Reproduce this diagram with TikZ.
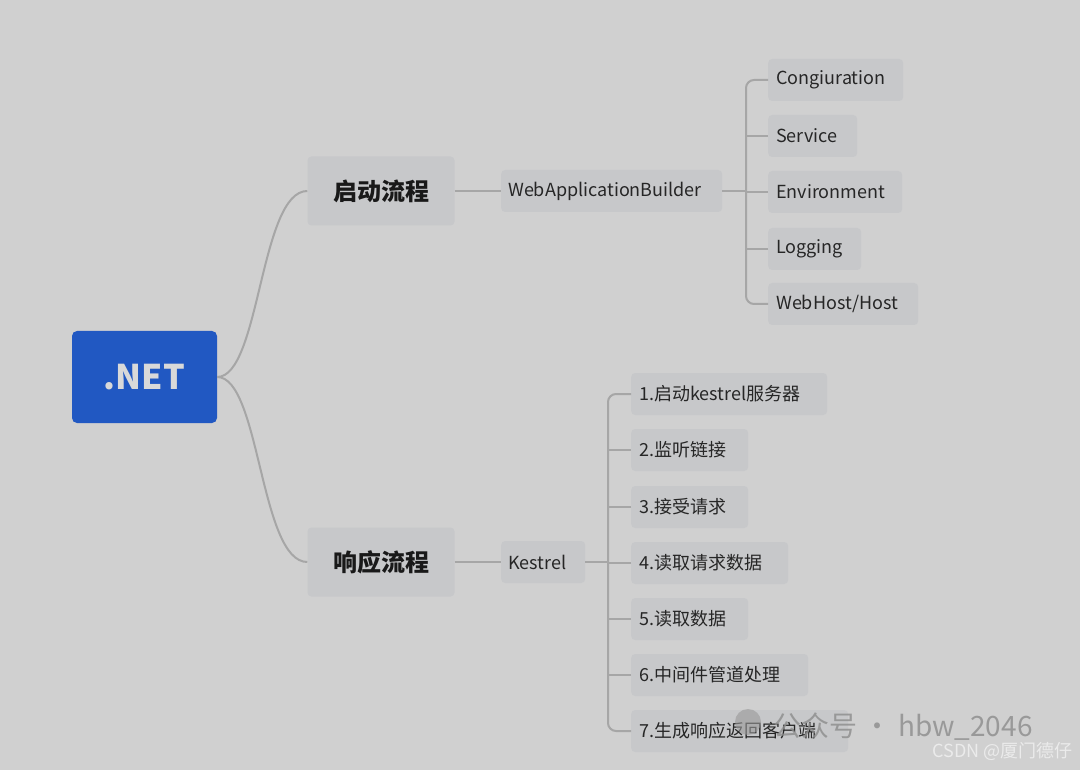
\documentclass[tikz,border=0pt]{standalone}
\usepackage{fontspec}
\setmainfont{Noto Sans CJK SC}
\begin{document}
\begin{tikzpicture}[x=1pt,y=-1pt,
  box/.style={fill=nodeg,rounded corners=4pt,inner sep=0pt,minimum height=42pt,anchor=west,font=\fontsize{18}{20}\selectfont,text=black!85},
  head/.style={fill=nodeg,rounded corners=4pt,minimum width=147pt,minimum height=69pt,font=\fontsize{24}{26}\selectfont\bfseries,text=black!90},
  link/.style={draw=lineg,line width=2pt}]
\definecolor{bg}{HTML}{D0D0D0}
\definecolor{nodeg}{HTML}{C7C8CA}
\definecolor{lineg}{HTML}{A6A6A6}
\definecolor{netblue}{HTML}{2158C2}
\fill[bg] (0,0) rectangle (1080,770);
\useasboundingbox (0,0) rectangle (1080,770);
\node[fill=netblue,rounded corners=5pt,minimum width=145pt,minimum height=92pt,text=black!15,font=\fontsize{34}{36}\selectfont\bfseries] (net) at (144.5,377) {.NET};
\node[head] (qd) at (381,191) {启动流程};
\node[head] (xy) at (381,562) {响应流程};
\node[box,minimum width=221pt,text width=221pt,align=left] (wab) at (501,191) {\hspace*{7pt}WebApplicationBuilder};
\node[box,minimum width=84pt,text width=84pt,align=left] (kes) at (501,562) {\hspace*{7pt}Kestrel};
\draw[link] (net.east) .. controls (260,377) and (260,191) .. (qd.west);
\draw[link] (net.east) .. controls (260,377) and (260,562) .. (xy.west);
\draw[link] (qd.east) -- (wab.west);
\draw[link] (xy.east) -- (kes.west);
\foreach \n/\t/\y/\w in {c1/Congiuration/80/135, c2/Service/136/89, c3/Environment/192/134, c4/Logging/249/93, c5/WebHost\slash Host/304/150}{
  \node[box,minimum width=\w pt,text width=\w pt,align=left] (\n) at (768,\y) {\hspace*{8pt}\t};
}
\coordinate (wj) at (746,191);
\draw[link] (wab.east) -- (wj);
\draw[link,rounded corners=8pt] (c1.west) -- (746,80) -- (746,304) -- (c5.west);
\foreach \n in {c2,c3,c4} \draw[link] (\n.west) -- (746,0 |- \n.west);
\foreach \n/\t/\y/\w in {k1/1.启动kestrel服务器/394/196, k2/2.监听链接/450/117, k3/3.接受请求/507/117, k4/4.读取请求数据/563/157, k5/5.读取数据/619/117, k6/6.中间件管道处理/675/177, k7/7.生成响应返回客户端/731/217}{
  \node[box,minimum width=\w pt,text width=\w pt,align=left] (\n) at (631,\y) {\hspace*{8pt}\t};
}
\coordinate (kj) at (608,562);
\draw[link] (kes.east) -- (kj);
\draw[link,rounded corners=8pt] (k1.west) -- (608,394) -- (608,731) -- (k7.west);
\foreach \n in {k2,k3,k4,k5,k6} \draw[link] (\n.west) -- (608,0 |- \n.west);
\node[text=black!45,font=\fontsize{28}{30}\selectfont,anchor=west,opacity=0.8] (wm) at (770,727) {公众号 · hbw\_2046};
\fill[black!40,opacity=0.6] (748,722) circle (13pt);
\node[text=white!92!black,font=\fontsize{18}{20}\selectfont,anchor=east] (csdn) at (1076,751) {CSDN @厦门德仔};
\end{tikzpicture}
\end{document}
